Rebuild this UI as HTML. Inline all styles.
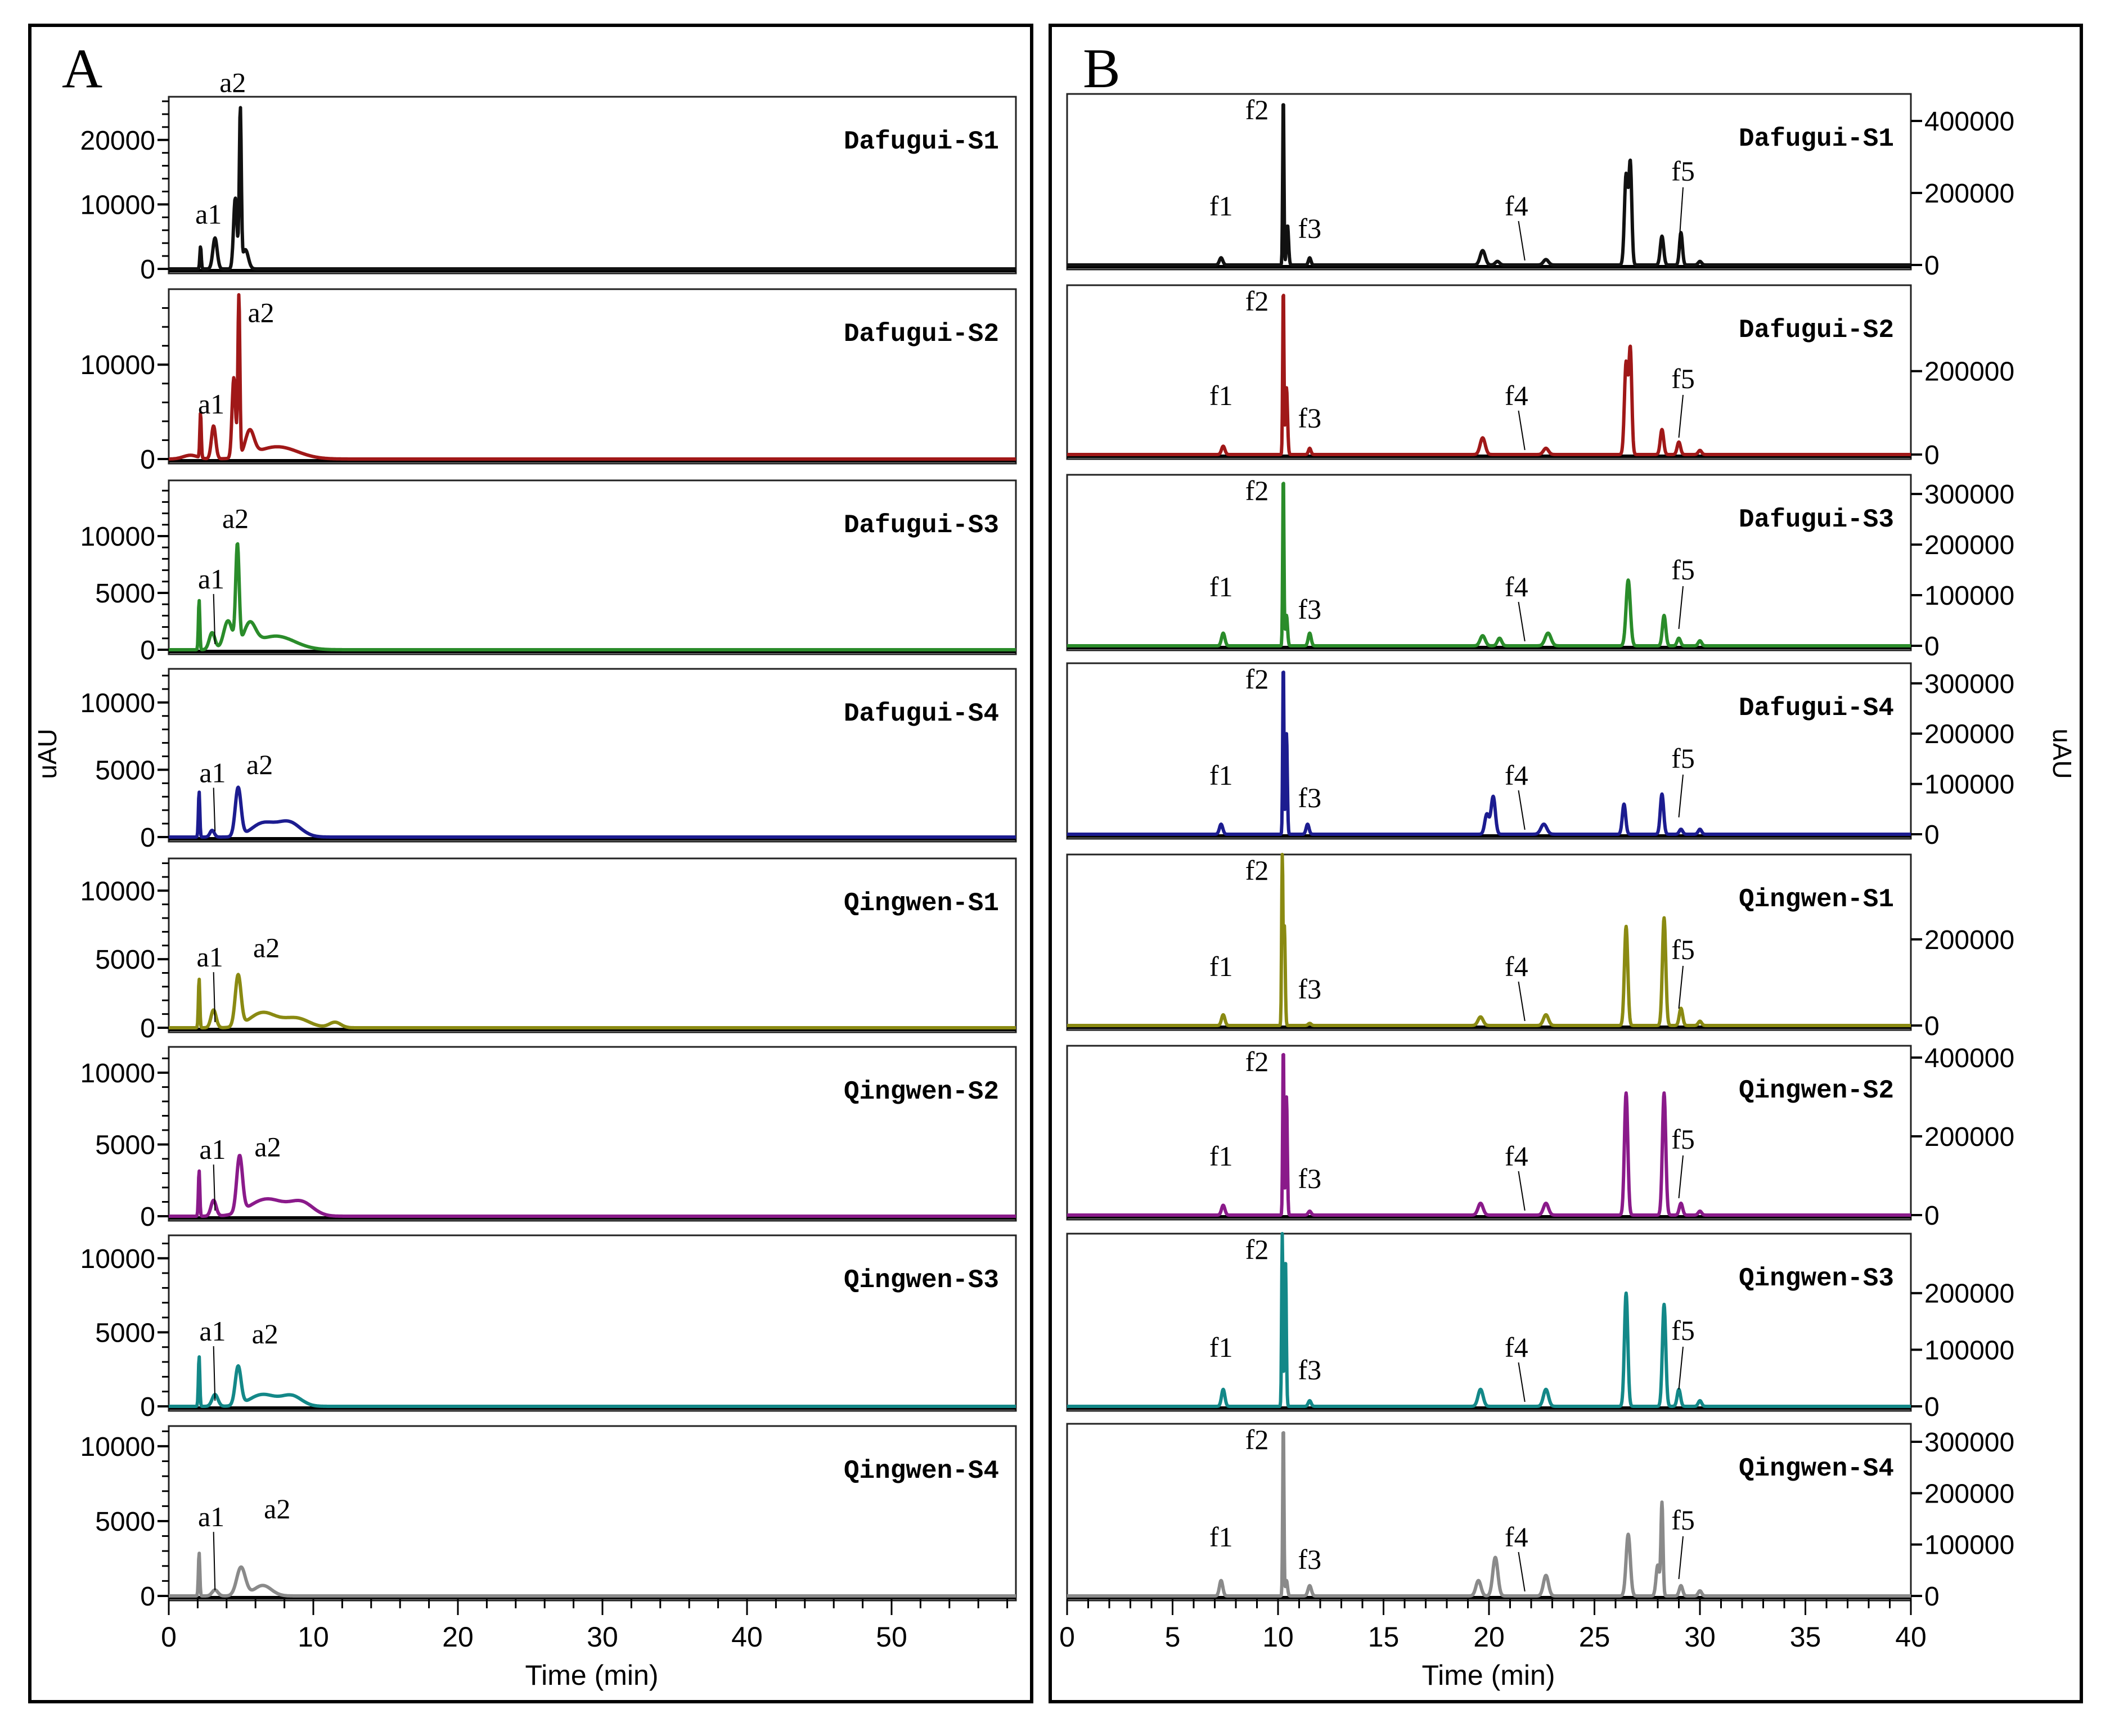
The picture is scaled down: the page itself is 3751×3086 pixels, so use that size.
<!DOCTYPE html>
<html><head><meta charset="utf-8"><style>
html,body{margin:0;padding:0;background:#fff;}
svg{display:block;}
text{font-family:"Liberation Sans",sans-serif;}
.mono{font-family:"Liberation Mono","Noto Sans CJK SC",monospace;font-weight:bold;}
.serif{font-family:"Liberation Serif",serif;}
</style></head><body>
<svg id="fig" width="3751" height="3086" viewBox="0 0 3751 3086" xmlns="http://www.w3.org/2000/svg">
<rect x="0" y="0" width="3751" height="3086" fill="#fff"/>
<rect x="53" y="45" width="1781" height="2980" fill="none" stroke="#000" stroke-width="6"/>
<rect x="1867" y="45" width="1833" height="2980" fill="none" stroke="#000" stroke-width="6"/>
<text x="110" y="155" font-size="100" class="serif">A</text>
<text x="1925" y="155" font-size="100" class="serif">B</text>
<g id="plots"></g>
</svg>
<script>
// ---- Data ----
const sampleNames = ["Dafugui-S1","Dafugui-S2","Dafugui-S3","Dafugui-S4","Qingwen-S1","Qingwen-S2","Qingwen-S3","Qingwen-S4"];
const colors = ["#111111","#a01818","#2a8c2a","#1c1c90","#8a8a12","#8a1a8a","#138888","#8a8a8a"];
// Panel A y-axis
const aYMax = [26700,18000,14900,12500,12350,11800,11550,11350];
const aYTicks = [[0,10000,20000],[0,10000],[0,5000,10000],[0,5000,10000],[0,5000,10000],[0,5000,10000],[0,5000,10000],[0,5000,10000]];
const aXTicks = [0,10,20,30,40,50];
// Panel A peaks: [time, height, sigma]
const aPeaks = [
 [[2.2,3500,0.05],[3.2,4800,0.15],[4.6,11000,0.12],[4.95,24500,0.07],[5.3,3000,0.2]],
 [[2.2,4800,0.05],[1.5,400,0.5],[3.1,3500,0.15],[4.5,8500,0.12],[4.85,17000,0.07],[5.6,2600,0.3],[7.5,1300,1.4]],
 [[2.1,4400,0.05],[3.0,1500,0.2],[4.1,2500,0.3],[4.75,8800,0.12],[5.6,2000,0.4],[7.4,1200,1.3]],
 [[2.1,3400,0.05],[3.0,500,0.15],[4.8,3600,0.2],[6.5,1000,0.8],[8.3,1100,0.8]],
 [[2.1,3600,0.05],[3.1,1300,0.18],[4.8,3700,0.2],[6.5,1100,0.9],[8.8,700,0.9],[11.5,400,0.4]],
 [[2.1,3200,0.05],[3.1,1100,0.18],[4.9,3900,0.2],[6.8,1200,1.2],[9.2,900,0.8]],
 [[2.1,3400,0.05],[3.2,800,0.2],[4.8,2600,0.2],[6.5,800,0.9],[8.5,700,0.7]],
 [[2.1,2900,0.05],[3.2,400,0.2],[5.0,1900,0.3],[6.5,700,0.6]]
];
// Panel B y-axis
const bYMax = [475000,406000,338000,340000,397000,430000,305000,335000];
const bYTicks = [[0,200000,400000],[0,200000],[0,100000,200000,300000],[0,100000,200000,300000],[0,200000],[0,200000,400000],[0,100000,200000],[0,100000,200000,300000]];
const bXTicks = [0,5,10,15,20,25,30,35,40];
// Panel B peaks: [time, height, sigma]
const bPeaks = [
 [[7.3,20000,0.08],[10.25,470000,0.03],[10.45,110000,0.05],[11.5,20000,0.06],[19.7,40000,0.12],[20.4,10000,0.1],[22.7,15000,0.12],[26.5,250000,0.08],[26.7,280000,0.07],[28.2,80000,0.08],[29.1,90000,0.07],[30.0,10000,0.08]],
 [[7.4,20000,0.08],[10.25,400000,0.03],[10.4,160000,0.05],[11.5,15000,0.06],[19.7,40000,0.12],[22.7,15000,0.12],[26.5,220000,0.08],[26.7,250000,0.07],[28.2,60000,0.08],[29.0,30000,0.08],[30.0,10000,0.08]],
 [[7.4,25000,0.08],[10.25,338000,0.03],[10.4,60000,0.05],[11.5,25000,0.07],[19.7,20000,0.12],[20.5,15000,0.1],[22.8,25000,0.14],[26.6,130000,0.1],[28.3,60000,0.08],[29.0,15000,0.08],[30.0,10000,0.08]],
 [[7.3,20000,0.08],[10.25,340000,0.03],[10.4,200000,0.04],[11.4,20000,0.07],[19.9,40000,0.1],[20.2,75000,0.1],[22.6,20000,0.14],[26.4,60000,0.08],[28.2,80000,0.08],[29.1,10000,0.08],[30.0,10000,0.08]],
 [[7.4,25000,0.08],[10.2,397000,0.03],[10.3,230000,0.04],[11.5,5000,0.07],[19.6,20000,0.12],[22.7,25000,0.12],[26.5,230000,0.08],[28.3,250000,0.08],[29.1,40000,0.08],[30.0,10000,0.08]],
 [[7.4,25000,0.08],[10.25,430000,0.03],[10.4,300000,0.04],[11.5,10000,0.07],[19.6,30000,0.12],[22.7,30000,0.12],[26.5,310000,0.08],[28.3,310000,0.08],[29.1,30000,0.08],[30.0,10000,0.08]],
 [[7.4,30000,0.08],[10.2,305000,0.03],[10.35,260000,0.04],[11.5,10000,0.07],[19.6,30000,0.12],[22.7,30000,0.12],[26.5,200000,0.08],[28.3,180000,0.08],[29.0,30000,0.08],[30.0,10000,0.08]],
 [[7.3,30000,0.08],[10.25,335000,0.03],[10.4,30000,0.05],[11.5,20000,0.08],[19.5,30000,0.12],[20.3,75000,0.12],[22.7,40000,0.12],[26.6,120000,0.1],[28.0,60000,0.08],[28.2,180000,0.05],[29.1,20000,0.08],[30.0,10000,0.08]]
];
// ---- Layout ----
const NS="http://www.w3.org/2000/svg";
const root=document.getElementById('plots');
const aTops=[172,514,854,1189,1526,1861,2196,2535];
const aZeros=[478,816,1155,1488,1827,2162,2500,2837];
const bTops=[167,507,844,1179,1519,1859,2193,2531];
const bZeros=[471,808,1148,1483,1823,2160,2500,2837];
const A={x0:300,x1:1806,tmax:58.6};
const B={x0:1897,x1:3397,tmax:40};
function mk(tag,attrs,parent){const e=document.createElementNS(NS,tag);for(const k in attrs)e.setAttribute(k,attrs[k]);(parent||root).appendChild(e);return e;}
function txt(x,y,s,size,anchor,parent,cls){const e=mk('text',{x:x,y:y,'font-size':size,'text-anchor':anchor||'start'},parent);if(cls)e.setAttribute('class',cls);e.textContent=s;return e;}
function signal(peaks,t){let v=0;for(const p of peaks){const d=(t-p[0])/p[2];if(Math.abs(d)<8)v+=p[1]*Math.exp(-0.5*d*d);}return v;}

function drawPanel(side,i){
  const L=side==='A'?A:B;
  const top=side==='A'?aTops[i]:bTops[i];
  const y0=side==='A'?aZeros[i]:bZeros[i];
  const ymax=side==='A'?aYMax[i]:bYMax[i];
  const ticks=side==='A'?aYTicks[i]:bYTicks[i];
  const peaks=side==='A'?aPeaks[i]:bPeaks[i];
  const sx=t=>L.x0+t/L.tmax*(L.x1-L.x0);
  const sy=v=>y0-v/ymax*(y0-top);
  const g=mk('g',{});
  
  
  const r=mk('rect',{x:L.x0,y:top,width:L.x1-L.x0,height:y0-top+8,fill:'none',stroke:'#222','stroke-width':3},g);
  
  
  ticks.forEach(v=>{
    const y=sy(v);
    if(side==='A'){
      mk('line',{x1:L.x0-20,y1:y,x2:L.x0,y2:y,stroke:'#000','stroke-width':4},g);
      const t=txt(L.x0-24,y+17,String(v),48,'end',g);
      
      
    }else{
      mk('line',{x1:L.x1,y1:y,x2:L.x1+20,y2:y,stroke:'#000','stroke-width':4},g);
      const t=txt(L.x1+24,y+17,String(v),48,'start',g);
      
      
    }
  });
  if(side==='A'){
    const step=(ticks[1]-ticks[0])/5;
    for(let v=step;v<ymax;v+=step){mk('line',{x1:L.x0-12,y1:sy(v),x2:L.x0,y2:sy(v),stroke:'#000','stroke-width':3},g);}
  }
  let d='';const n=side==='A'?1500:2000;
  for(let k=0;k<=n;k++){const t=k/n*L.tmax;let v=signal(peaks,t);let y=Math.max(sy(v),top);d+=(k?'L':'M')+sx(t).toFixed(1)+','+y.toFixed(1);}
  mk('line',{x1:L.x0,y1:y0+3,x2:L.x1,y2:y0+3,stroke:'#000','stroke-width':6},g);
  const p=mk('path',{d:d,fill:'none',stroke:colors[i],'stroke-width':6,'stroke-linejoin':'round'},g);
  
  
  const nm=txt(L.x1-30,top+92,sampleNames[i],46,'end',g,'mono');
  
  
  const lab=(s,x,y)=>{const e=txt(x,y,s,50,'middle',g,'serif');return e;};
  if(side==='A'){
    const aLab=[[155,160,173,62],[157,301,194,233],[157,431,175,386],[158,575,193,569],[156,712,198,705],[158,855,199,853],[158,990,197,992],[157,1128,206,1122]][i];
    lab('a1',aLab[0]*2.392,aLab[1]*2.392+15);
    lab('a2',aLab[2]*2.392,aLab[3]*2.392+15);
    if(i>=2) mk('line',{x1:sx(3.1),y1:aLab[1]*2.392+25,x2:sx(3.2),y2:y0-10,stroke:'#000','stroke-width':2},g);
  }else{
    const f5off=i===0?150:118;
    lab('f1',sx(7.3),y0-88);
    lab('f2',sx(9.0),top+45);
    lab('f3',sx(11.5),y0-48);
    lab('f4',sx(21.3),y0-88);
    lab('f5',sx(29.2),y0-f5off);
    mk('line',{x1:sx(21.4),y1:y0-78,x2:sx(21.7),y2:y0-8,stroke:'#000','stroke-width':2},g);
    mk('line',{x1:sx(29.2),y1:y0-f5off+12,x2:sx(29.0),y2:y0-30,stroke:'#000','stroke-width':2},g);
  }
  if(i===7){
    const xt=side==='A'?aXTicks:bXTicks;
    const minor=side==='A'?2:1;
    for(let t=0;t<=L.tmax+1e-6;t+=minor){const big=xt.includes(Math.round(t));mk('line',{x1:sx(t),y1:y0+6,x2:sx(t),y2:y0+(big?34:22),stroke:'#000','stroke-width':3},g);}
    xt.forEach(t=>{const e=txt(sx(t),y0+90,String(t),50,'middle',g);});
    const cx=side==='A'?1052:2646;
    const xl=txt(cx,2995,'Time (min)',50,'middle',g);
    
    
  }
}
for(let i=0;i<8;i++){drawPanel('A',i);drawPanel('B',i);}
const yl=txt(0,0,'uAU',46,'middle');
yl.setAttribute('transform','translate(100,1340) rotate(-90)');


const yr=txt(0,0,'uAU',46,'middle');
yr.setAttribute('transform','translate(3650,1340) rotate(90)');


</script>
</body></html>
